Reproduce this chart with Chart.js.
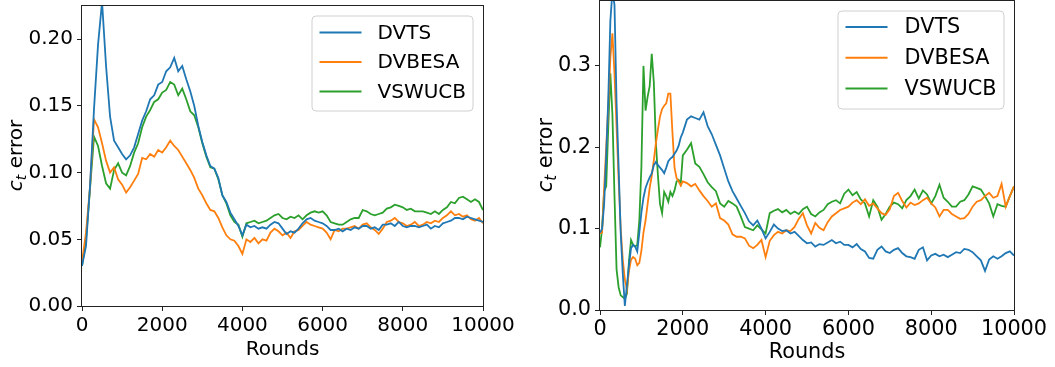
<!DOCTYPE html>
<html>
<head>
<meta charset="utf-8">
<script src="https://cdn.jsdelivr.net/npm/chart.js@4/dist/chart.umd.min.js"></script>
<style>
  body { margin: 0; background: #fff; }
  #wrap { position: relative; width: 1055px; height: 367px; }
  canvas { position: absolute; top: 0; }
</style>
</head>
<body>
<div id="wrap">
  <canvas id="leftChart" width="527" height="367" style="left:0"></canvas>
  <canvas id="rightChart" width="528" height="367" style="left:527px"></canvas>
</div>
<script>
var seriesNames = ['DVTS', 'DVBESA', 'VSWUCB'];
var seriesColors = ['#1f77b4', '#ff7f0e', '#2ca02c'];

// left panel, one value every 100 rounds
var roundsLeft = [0,100,200,300,400,500,600,700,800,900,1000,1100,1200,1300,1400,1500,1600,1700,1800,1900,
  2000,2100,2200,2300,2400,2500,2600,2700,2800,2900,3000,3100,3200,3300,3400,3500,3600,3700,3800,3900,
  4000,4100,4200,4300,4400,4500,4600,4700,4800,4900,5000,5100,5200,5300,5400,5500,5600,5700,5800,5900,
  6000,6100,6200,6300,6400,6500,6600,6700,6800,6900,7000,7100,7200,7300,7400,7500,7600,7700,7800,7900,
  8000,8100,8200,8300,8400,8500,8600,8700,8800,8900,9000,9100,9200,9300,9400,9500,9600,9700,9800,9900,10000];
var leftDVTS = [0.030,0.045,0.090,0.148,0.196,0.228,0.180,0.142,0.124,0.119,0.114,0.110,0.113,0.119,0.129,0.139,0.146,0.155,0.158,0.166,
  0.168,0.176,0.179,0.186,0.176,0.180,0.170,0.161,0.150,0.135,0.123,0.113,0.105,0.103,0.096,0.083,0.078,0.070,0.065,0.060,
  0.053,0.061,0.059,0.060,0.058,0.059,0.058,0.061,0.063,0.062,0.058,0.054,0.056,0.055,0.058,0.062,0.065,0.066,0.064,0.063,
  0.062,0.060,0.057,0.057,0.058,0.056,0.058,0.057,0.059,0.058,0.060,0.060,0.058,0.059,0.057,0.061,0.061,0.062,0.060,0.063,
  0.060,0.059,0.060,0.060,0.059,0.060,0.061,0.058,0.060,0.059,0.062,0.063,0.064,0.066,0.066,0.065,0.067,0.066,0.065,0.064,0.063];
var leftDVBESA = [0.033,0.055,0.089,0.140,0.134,0.122,0.109,0.100,0.104,0.095,0.091,0.085,0.089,0.094,0.099,0.111,0.110,0.114,0.112,0.117,
  0.115,0.119,0.124,0.120,0.117,0.112,0.107,0.102,0.096,0.088,0.083,0.077,0.072,0.071,0.066,0.059,0.053,0.050,0.049,0.045,
  0.039,0.050,0.048,0.051,0.047,0.050,0.049,0.055,0.058,0.056,0.053,0.055,0.051,0.056,0.057,0.060,0.063,0.061,0.060,0.059,
  0.058,0.055,0.050,0.057,0.056,0.058,0.058,0.059,0.060,0.058,0.061,0.062,0.059,0.057,0.054,0.058,0.063,0.064,0.066,0.063,
  0.062,0.060,0.061,0.063,0.060,0.061,0.063,0.062,0.064,0.063,0.066,0.068,0.071,0.068,0.069,0.067,0.068,0.065,0.064,0.066,0.062];
var leftVSWUCB = [0.030,0.050,0.088,0.127,0.120,0.105,0.092,0.088,0.102,0.107,0.100,0.098,0.105,0.115,0.122,0.134,0.142,0.147,0.153,0.155,
  0.160,0.162,0.168,0.166,0.158,0.163,0.155,0.146,0.143,0.134,0.122,0.112,0.104,0.103,0.095,0.083,0.077,0.068,0.063,0.061,
  0.052,0.062,0.063,0.064,0.062,0.063,0.064,0.066,0.068,0.069,0.066,0.065,0.067,0.066,0.068,0.065,0.068,0.070,0.071,0.070,
  0.071,0.068,0.063,0.062,0.061,0.061,0.063,0.065,0.066,0.066,0.072,0.071,0.069,0.068,0.069,0.070,0.073,0.074,0.076,0.075,
  0.074,0.072,0.073,0.071,0.071,0.071,0.070,0.069,0.071,0.069,0.072,0.074,0.078,0.077,0.081,0.082,0.080,0.078,0.080,0.078,0.072];

// right panel, every 50 rounds up to 2000, then every 100
var roundsRight = [0,50,100,150,200,250,300,350,400,450,500,550,600,650,700,750,800,850,900,950,
  1000,1050,1100,1150,1200,1250,1300,1350,1400,1450,1500,1550,1600,1650,1700,1750,1800,1850,1900,1950,2000,
  2100,2200,2300,2400,2500,2600,2700,2800,2900,3000,3100,3200,3300,3400,3500,3600,3700,3800,3900,
  4000,4100,4200,4300,4400,4500,4600,4700,4800,4900,5000,5100,5200,5300,5400,5500,5600,5700,5800,5900,
  6000,6100,6200,6300,6400,6500,6600,6700,6800,6900,7000,7100,7200,7300,7400,7500,7600,7700,7800,7900,
  8000,8100,8200,8300,8400,8500,8600,8700,8800,8900,9000,9100,9200,9300,9400,9500,9600,9700,9800,9900,10000];
var rightDVTS = [0.095,0.100,0.130,0.190,0.260,0.355,0.392,0.375,0.255,0.175,0.095,0.045,0.005,0.030,0.055,0.076,0.080,0.078,0.072,0.095,
  0.120,0.138,0.150,0.157,0.163,0.168,0.178,0.182,0.178,0.175,0.172,0.168,0.175,0.183,0.186,0.188,0.192,0.196,0.202,0.212,0.218,
  0.234,0.238,0.236,0.234,0.243,0.226,0.216,0.203,0.190,0.174,0.158,0.146,0.137,0.128,0.119,0.109,0.104,0.110,0.100,
  0.088,0.096,0.105,0.100,0.097,0.098,0.094,0.096,0.091,0.086,0.082,0.083,0.078,0.081,0.080,0.083,0.086,0.082,0.084,0.080,
  0.080,0.077,0.081,0.075,0.072,0.064,0.063,0.074,0.078,0.072,0.070,0.074,0.076,0.070,0.066,0.065,0.063,0.074,0.077,0.061,
  0.067,0.069,0.066,0.068,0.065,0.068,0.071,0.070,0.075,0.074,0.071,0.066,0.061,0.048,0.062,0.066,0.063,0.066,0.070,0.072,0.067];
var rightDVBESA = [0.094,0.095,0.150,0.200,0.250,0.310,0.340,0.290,0.225,0.160,0.100,0.062,0.038,0.025,0.048,0.062,0.065,0.063,0.055,0.058,
  0.073,0.095,0.110,0.130,0.150,0.165,0.184,0.205,0.222,0.238,0.247,0.251,0.254,0.266,0.266,0.218,0.175,0.162,0.158,0.153,0.158,
  0.156,0.152,0.155,0.147,0.140,0.134,0.127,0.131,0.113,0.110,0.105,0.093,0.090,0.090,0.088,0.079,0.076,0.080,0.086,
  0.065,0.085,0.092,0.096,0.094,0.098,0.097,0.102,0.112,0.119,0.104,0.094,0.107,0.101,0.098,0.108,0.115,0.119,0.123,0.125,
  0.127,0.132,0.135,0.130,0.136,0.128,0.131,0.125,0.119,0.117,0.124,0.140,0.144,0.134,0.126,0.132,0.129,0.131,0.135,0.138,
  0.131,0.126,0.115,0.123,0.123,0.118,0.115,0.112,0.113,0.118,0.127,0.133,0.135,0.140,0.144,0.138,0.140,0.155,0.127,0.140,0.152];
var rightVSWUCB = [0.077,0.100,0.146,0.152,0.225,0.291,0.240,0.140,0.050,0.028,0.018,0.016,0.014,0.020,0.060,0.086,0.080,0.078,0.080,0.110,
  0.176,0.300,0.245,0.262,0.275,0.315,0.280,0.205,0.165,0.130,0.119,0.145,0.140,0.133,0.145,0.140,0.147,0.158,0.160,0.155,0.190,
  0.197,0.205,0.180,0.176,0.167,0.157,0.151,0.146,0.131,0.127,0.134,0.131,0.127,0.115,0.102,0.100,0.098,0.104,0.099,
  0.094,0.119,0.122,0.124,0.120,0.123,0.118,0.121,0.118,0.124,0.127,0.118,0.115,0.120,0.123,0.130,0.133,0.135,0.131,0.143,
  0.148,0.141,0.145,0.136,0.131,0.115,0.135,0.127,0.111,0.118,0.127,0.132,0.130,0.125,0.135,0.140,0.148,0.137,0.147,0.142,
  0.131,0.140,0.154,0.138,0.133,0.127,0.127,0.133,0.135,0.142,0.152,0.150,0.148,0.140,0.131,0.115,0.130,0.128,0.127,0.140,0.152];

var FONT = '"DejaVu Sans", sans-serif';

// matplotlib-like frame, legend and axis titles
var mplDecor = {
  id: 'mplDecor',
  afterDraw: function(chart, args, o) {
    var ctx = chart.ctx, a = chart.chartArea;
    ctx.save();
    ctx.strokeStyle = '#222';
    ctx.lineWidth = 1;
    ctx.strokeRect(Math.round(a.left) - 0.5, Math.round(a.top) + 0.5,
      Math.round(a.right - a.left) + 1, Math.round(a.bottom - a.top));

    // legend box
    var fs = o.fontSize;
    var bx = a.right - o.legInset - o.legW, by = a.top + o.legInset;
    ctx.beginPath();
    ctx.roundRect(bx + 0.5, by + 0.5, o.legW, o.legH, 4);
    ctx.fillStyle = 'rgba(255,255,255,0.8)';
    ctx.fill();
    ctx.strokeStyle = '#d0d0d0';
    ctx.stroke();
    ctx.font = fs + 'px ' + FONT;
    ctx.textBaseline = 'middle';
    ctx.textAlign = 'left';
    chart.data.datasets.forEach(function(ds, i) {
      var y = by + o.legRow0 + i * o.legGap;
      ctx.strokeStyle = ds.borderColor;
      ctx.lineWidth = 2;
      ctx.beginPath();
      ctx.moveTo(bx + 8, y);
      ctx.lineTo(bx + 50, y);
      ctx.stroke();
      ctx.fillStyle = '#000';
      ctx.fillText(ds.label, bx + o.legText, y + 1);
    });

    // x title
    ctx.textAlign = 'center';
    ctx.textBaseline = 'alphabetic';
    ctx.fillText('Rounds', (a.left + a.right) / 2, o.xTitleY);

    // y title: c_t error
    ctx.translate(o.yTitleX, (a.top + a.bottom) / 2);
    ctx.rotate(-Math.PI / 2);
    var big = 'italic ' + fs + 'px ' + FONT;
    var small = 'italic ' + Math.round(fs * 0.7) + 'px ' + FONT;
    var norm = fs + 'px ' + FONT;
    ctx.font = big; var wc = ctx.measureText('c').width;
    ctx.font = small; var wt = ctx.measureText('t').width;
    ctx.font = norm; var we = ctx.measureText(' error').width;
    var x = -(wc + wt + we) / 2;
    ctx.textAlign = 'left';
    ctx.textBaseline = 'middle';
    ctx.font = big; ctx.fillText('c', x, 0);
    ctx.font = small; ctx.fillText('t', x + wc, fs * 0.25);
    ctx.font = norm; ctx.fillText(' error', x + wc + wt, 0);
    ctx.restore();
  }
};

function makeChart(id, rounds, values, cfg) {
  var datasets = values.map(function(v, i) {
    return {
      label: seriesNames[i],
      data: rounds.map(function(r, j) { return { x: r, y: v[j] }; }),
      borderColor: seriesColors[i],
      borderWidth: 1.8,
      pointRadius: 0,
      tension: 0,
      fill: false
    };
  });
  var tickFont = { family: FONT, size: cfg.fontSize };
  return new Chart(document.getElementById(id), {
    type: 'line',
    data: { datasets: datasets },
    plugins: [mplDecor],
    options: {
      responsive: false,
      animation: false,
      events: [],
      layout: { padding: { left: 0, top: cfg.top, right: cfg.right, bottom: 0 } },
      plugins: {
        legend: { display: false },
        tooltip: { enabled: false },
        mplDecor: cfg
      },
      scales: {
        x: {
          type: 'linear', min: 0, max: 10000,
          border: { display: false },
          grid: { drawOnChartArea: false, drawTicks: true, tickLength: 5, tickColor: '#222', tickWidth: 1 },
          ticks: { stepSize: 2000, color: '#000', font: tickFont, padding: cfg.xPad, maxRotation: 0, autoSkip: false,
                   callback: function(v) { return String(v); } },
          afterFit: function(s) {
            s.height = cfg.xHeight;
            s.paddingLeft = 0; s.paddingRight = 0;
          }
        },
        y: {
          min: 0, max: cfg.yMax,
          border: { display: false },
          grid: { drawOnChartArea: false, drawTicks: true, tickLength: 5, tickColor: '#222', tickWidth: 1 },
          ticks: { stepSize: cfg.yStep, includeBounds: false, color: '#000', font: tickFont, padding: 4,
                   callback: function(v) { return v.toFixed(cfg.yDec); } },
          afterFit: function(s) {
            s.width = cfg.yWidth;
            s.paddingTop = 0; s.paddingBottom = 0;
          }
        }
      }
    }
  });
}

makeChart('leftChart', roundsLeft, [leftDVTS, leftDVBESA, leftVSWUCB], {
  fontSize: 20, top: 5, right: 44, xHeight: 61, yWidth: 82, xPad: 3,
  yMax: 0.2257, yStep: 0.05, yDec: 2,
  legInset: 10.5, legW: 161, legH: 95, legRow0: 17, legGap: 29.5, legText: 66,
  xTitleY: 355, yTitleX: 17
});
makeChart('rightChart', roundsRight, [rightDVTS, rightDVBESA, rightVSWUCB], {
  fontSize: 20.8, top: 0, right: 41, xHeight: 57, yWidth: 73, xPad: 2,
  yMax: 0.381, yStep: 0.1, yDec: 1,
  legInset: 10.5, legW: 166, legH: 98, legRow0: 16.5, legGap: 30.7, legText: 67,
  xTitleY: 358, yTitleX: 19.5
});
</script>
</body>
</html>
